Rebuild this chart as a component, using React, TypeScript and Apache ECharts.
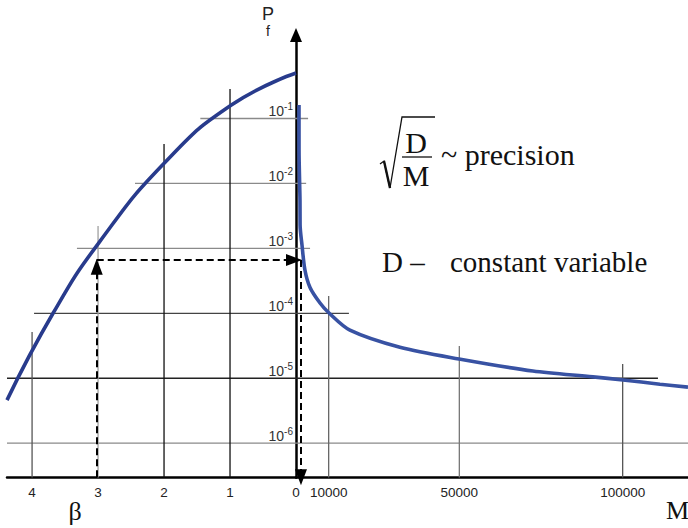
import React, { useEffect, useRef } from 'react';
import * as echarts from 'echarts';

// ---- axis ticks ----
const betaTicks = [0, 1, 2, 3, 4];
const mTicks = [10000, 50000, 100000];
const pfTicks = [1e-1, 1e-2, 1e-3, 1e-4, 1e-5, 1e-6];

// ---- axis ranges ----
const betaMax = 4.38;
const mMax = 120000;
const pfMin = 2.96e-7;
const pfMax = 1.93;

// ---- left curve: Pf versus reliability index beta ----
const betaCurveBeta = [4.38, 3.68, 2.98, 1.98, 0.98, 0];
const betaCurvePf = [4.6e-6, 1.01e-4, 1.25e-3, 0.0214, 0.161, 0.501];

// ---- right curve: Pf versus number of simulations M ----
const mCurveM = [920, 930, 1220, 1250, 1840, 2750, 4290, 7350, 10100, 16500, 31800, 49900, 72500, 90900, 100100, 111400, 120000];
const mCurvePf = [0.161, 0.0327, 5.5e-3, 2.3e-3, 1.12e-3, 4.6e-4, 2.5e-4, 1.44e-4, 1.01e-4, 5.5e-5, 3.0e-5, 1.98e-5, 1.29e-5, 1.05e-5, 9.4e-6, 8.1e-6, 7.3e-6];

// ---- drop lines ----
const betaDropX = [1, 2, 3, 4];
const betaDropTopPf = [0.284, 0.0405, 2.21e-3, 5.15e-5];
const mDropX = [10000, 50000, 100000];
const mDropTopPf = [1.85e-4, 3.13e-5, 1.66e-5];

// ---- horizontal level lines (one per Pf tick) ----
const levelLeftStartBeta = [1.45, 2.44, 3.32, 3.97, 4.38, 4.38];
const levelRightEndM = [3700, 3100, 4300, 16200, 110800, 120000];

// ---- read-out example ----
const readBeta = 3.02;
const readPf = 6.6e-4;
const readPfArrow = 5.2e-4;
const readM = 1530;
const readBetaArrowEnd = 0.03;

// ---- styles ----
const levelColors = ['#8a8a8a', '#8a8a8a', '#8a8a8a', '#444', '#222', '#8a8a8a'];
const betaDropColors = ['#111', '#111', '#a0a0a0', '#555'];
const mDropColors = ['#666', '#777', '#555'];

const serif = '"Liberation Serif", "Times New Roman", serif';
const sans = '"Liberation Sans", Arial, sans-serif';

function seg(name: string, xi: number, pts: number[][], color: string, width = 1.3) {
  return {
    name,
    type: 'line',
    xAxisIndex: xi,
    yAxisIndex: xi,
    data: pts,
    showSymbol: false,
    silent: true,
    z: 1,
    lineStyle: { color, width },
  };
}

export default function App() {
  const ref = useRef<HTMLDivElement>(null);
  useEffect(() => {
    if (!ref.current) return;
    const chart = echarts.init(ref.current, undefined, { renderer: 'svg' });
    const series: any[] = [];

    pfTicks.forEach((lv, i) => {
      series.push(seg('levelL' + i, 0, [[levelLeftStartBeta[i], lv], [0, lv]], levelColors[i]));
      series.push(seg('levelR' + i, 1, [[0, lv], [levelRightEndM[i], lv]], levelColors[i]));
    });
    betaDropX.forEach((b, i) => {
      series.push(seg('dropB' + i, 0, [[b, betaDropTopPf[i]], [b, pfMin * 1.001]], betaDropColors[i]));
    });
    mDropX.forEach((m, i) => {
      series.push(seg('dropM' + i, 1, [[m, mDropTopPf[i]], [m, pfMin * 1.001]], mDropColors[i]));
    });

    series.push({
      name: 'Pf(beta)',
      type: 'line',
      xAxisIndex: 0,
      yAxisIndex: 0,
      data: betaCurveBeta.map((b, i) => [b, betaCurvePf[i]]),
      smooth: 0.5,
      showSymbol: false,
      silent: true,
      z: 3,
      lineStyle: { color: '#283b8c', width: 3.6 },
    });
    series.push({
      name: 'Pf(M)',
      type: 'line',
      xAxisIndex: 1,
      yAxisIndex: 1,
      data: mCurveM.map((m, i) => [m, mCurvePf[i]]),
      smooth: 0.3,
      showSymbol: false,
      silent: true,
      z: 3,
      lineStyle: { color: '#3852a3', width: 3.6 },
    });

    const arrowStyle = { type: [7, 4], color: '#000', width: 2 };
    series.push({
      name: 'readLeft',
      type: 'line',
      xAxisIndex: 0,
      yAxisIndex: 0,
      data: [[readBeta, readPf]],
      showSymbol: false,
      silent: true,
      clip: false,
      z: 4,
      lineStyle: { opacity: 0 },
      markLine: {
        silent: true,
        symbol: ['none', 'triangle'],
        symbolSize: [12, 16],
        label: { show: false },
        lineStyle: arrowStyle,
        emphasis: { disabled: true },
        data: [
          [{ coord: [readBeta, pfMin * 1.01] }, { coord: [readBeta, readPfArrow] }],
          [{ coord: [readBeta, readPf] }, { coord: [readBetaArrowEnd, readPf] }],
        ],
      },
    });
    series.push({
      name: 'readRight',
      type: 'line',
      xAxisIndex: 1,
      yAxisIndex: 1,
      data: [[readM, readPf]],
      showSymbol: false,
      silent: true,
      clip: false,
      z: 4,
      lineStyle: { opacity: 0 },
      markLine: {
        silent: true,
        symbol: ['none', 'triangle'],
        symbolSize: [12, 16],
        label: { show: false },
        lineStyle: arrowStyle,
        emphasis: { disabled: true },
        data: [[{ coord: [readM, readPf] }, { coord: [readM, pfMin * 1.01] }]],
      },
    });

    const xLabel = { margin: 8, color: '#222', fontSize: 13.5, fontFamily: sans, formatter: (v: number) => String(v) };
    const baseLine = { show: true, onZero: false, lineStyle: { color: '#000', width: 2.5 } };

    const option: any = {
      animation: false,
      textStyle: { fontFamily: sans },
      grid: [
        { left: 7, right: 392, top: 35, bottom: 50.5, containLabel: false, outerBoundsMode: 'none' },
        { left: 296, right: 0, top: 35, bottom: 50.5, containLabel: false, outerBoundsMode: 'none' },
      ],
      xAxis: [
        {
          type: 'value', gridIndex: 0, inverse: true, min: 0, max: betaMax,
          splitLine: { show: false }, axisTick: { show: false }, axisLine: baseLine,
          axisLabel: { ...xLabel, customValues: betaTicks },
        },
        {
          type: 'value', gridIndex: 1, min: 0, max: mMax,
          splitLine: { show: false }, axisTick: { show: false }, axisLine: baseLine,
          axisLabel: { ...xLabel, customValues: mTicks },
        },
      ],
      yAxis: [
        {
          type: 'log', logBase: 10, gridIndex: 0, position: 'right', min: pfMin, max: pfMax,
          splitLine: { show: false }, axisTick: { show: false },
          axisLine: {
            show: true, onZero: false, symbol: ['none', 'triangle'], symbolSize: [12, 14],
            lineStyle: { color: '#000', width: 2.5 },
          },
          axisLabel: {
            inside: true, margin: 3, verticalAlign: 'bottom', customValues: pfTicks,
            fontSize: 14, color: '#333', fontFamily: sans,
            formatter: (v: number) => `{b|10}{s|${Math.round(Math.log10(v))}}`,
            rich: {
              b: { fontSize: 14, lineHeight: 17, verticalAlign: 'bottom', color: '#333', fontFamily: sans },
              s: { fontSize: 10, lineHeight: 9, verticalAlign: 'top', color: '#333', fontFamily: sans },
            },
          },
        },
        { type: 'log', logBase: 10, gridIndex: 1, min: pfMin, max: pfMax, show: false },
      ],
      series,
      graphic: [
        { type: 'text', x: 268, y: 14, silent: true, style: { text: 'P', fontSize: 18, fontFamily: sans, fill: '#222', align: 'center', verticalAlign: 'middle' } },
        { type: 'text', x: 268, y: 31, silent: true, style: { text: 'f', fontSize: 14, fontFamily: sans, fill: '#222', align: 'center', verticalAlign: 'middle' } },
        { type: 'polyline', silent: true, shape: { points: [[380, 164], [384, 161], [390, 188], [402, 117], [435, 117]] }, style: { stroke: '#111', lineWidth: 1.3, fill: null } },
        { type: 'line', silent: true, shape: { x1: 384, y1: 161, x2: 390, y2: 188 }, style: { stroke: '#111', lineWidth: 2.4 } },
        { type: 'line', silent: true, shape: { x1: 402, y1: 157, x2: 432, y2: 157 }, style: { stroke: '#111', lineWidth: 1.3 } },
        { type: 'text', x: 416, y: 142.5, silent: true, style: { text: 'D', fontSize: 30, fontFamily: serif, fill: '#111', align: 'center', verticalAlign: 'middle' } },
        { type: 'text', x: 416, y: 175, silent: true, style: { text: 'M', fontSize: 30, fontFamily: serif, fill: '#111', align: 'center', verticalAlign: 'middle' } },
        { type: 'text', x: 441, y: 154, silent: true, style: { text: '~ precision', fontSize: 30, fontFamily: serif, fill: '#111', align: 'left', verticalAlign: 'middle' } },
        { type: 'text', x: 382, y: 262, silent: true, style: { text: 'D –', fontSize: 29, fontFamily: serif, fill: '#111', align: 'left', verticalAlign: 'middle' } },
        { type: 'text', x: 450, y: 262, silent: true, style: { text: 'constant variable', fontSize: 29, fontFamily: serif, fill: '#111', align: 'left', verticalAlign: 'middle' } },
        { type: 'text', x: 75, y: 511, silent: true, style: { text: 'β', fontSize: 26, fontFamily: serif, fill: '#111', align: 'center', verticalAlign: 'middle' } },
        { type: 'text', x: 689, y: 510, silent: true, style: { text: 'M', fontSize: 26, fontFamily: serif, fill: '#111', align: 'right', verticalAlign: 'middle' } },
      ],
    };
    chart.setOption(option);
    return () => chart.dispose();
  }, []);
  return <div ref={ref} style={{ position: 'absolute', left: 0, top: 0, width: 688, height: 528, background: '#fff' }} />;
}
